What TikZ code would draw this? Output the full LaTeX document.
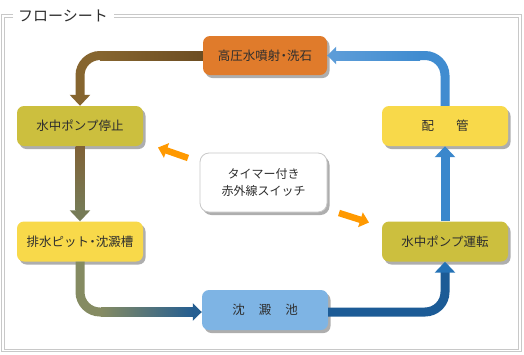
\documentclass[tikz,border=0pt]{standalone}
\usepackage{fontspec}
\setmainfont{Noto Sans CJK JP}
\usetikzlibrary{arrows.meta,shadows,calc}
\definecolor{framec}{HTML}{C8C8C8}
\definecolor{textc}{HTML}{2E2E2E}
\definecolor{orangebox}{HTML}{E07B2B}
\definecolor{olivebox}{HTML}{CCBF3E}
\definecolor{yellowbox}{HTML}{F8D94A}
\definecolor{bluebox}{HTML}{7EB4E4}
\definecolor{orangearr}{HTML}{FF9900}
\definecolor{brownA}{HTML}{6C4D22}
\definecolor{brownB}{HTML}{86652F}
\definecolor{brownC}{HTML}{806236}
\definecolor{oliveA}{HTML}{767B57}
\definecolor{oliveB}{HTML}{858B62}
\definecolor{paleC}{HTML}{A6AB8B}
\definecolor{blueD}{HTML}{255E91}
\definecolor{blueE}{HTML}{1C5B96}
\definecolor{blueF}{HTML}{2472B6}
\definecolor{blueG}{HTML}{3A87CC}
\definecolor{blueH}{HTML}{408CD0}
\definecolor{blueI}{HTML}{5C9CD8}
\newcommand{\nakaguro}{\makebox[0.55em]{・}}
\begin{document}
\begin{tikzpicture}[x=1pt,y=-1pt,
  boxstyle/.style={rounded corners=7pt, minimum width=126pt, minimum height=40pt,
    inner sep=0pt, font=\fontsize{12.5pt}{15pt}\selectfont, text=textc,
    drop shadow={shadow xshift=2.5pt, shadow yshift=-3pt, opacity=0.45, fill=black!70}},
  conn/.style={line width=9pt, rounded corners=20pt},
  framestyle/.style={draw=framec, line width=1pt},
  hintarrow/.style={line width=6.5pt, draw=orangearr, -{Triangle[length=9pt,width=15pt]}}
]
\useasboundingbox (0,0) rectangle (524,354);
\fill[white] (0,0) rectangle (524,354);

% frame
\draw[framestyle] (13,14.5) -- (1.5,14.5) -- (1.5,351.5) -- (521.5,351.5) -- (521.5,14.5) -- (114,14.5);
\draw[framestyle] (13,17) -- (4.5,17) -- (4.5,349) -- (518.5,349) -- (518.5,17) -- (114,17);
\node[anchor=west, inner sep=0pt, text=textc, font=\fontsize{15pt}{17pt}\selectfont] (title) at (18,15.5) {フローシート};

% boxes
\node[boxstyle, fill=orangebox, minimum width=124pt, minimum height=39pt] (hp) at (265,55.5) {高圧水噴射\nakaguro 洗石};
\node[boxstyle, fill=olivebox] (stop) at (80,126) {水中ポンプ停止};
\node[boxstyle, fill=yellowbox] (pipe) at (445,126) {配\hspace{22pt}管};
\node[boxstyle, fill=yellowbox] (pit) at (80,241.5) {排水ピット\nakaguro 沈澱槽};
\node[boxstyle, fill=olivebox] (run) at (445,241.5) {水中ポンプ運転};
\node[boxstyle, fill=bluebox] (pond) at (265,310) {沈\hspace{14pt}澱\hspace{14pt}池};
\node[boxstyle, fill=white, draw=framec, line width=0.8pt, minimum width=127pt, minimum height=59pt,
  rounded corners=9pt, align=center, font=\fontsize{12pt}{17pt}\selectfont] (timer) at (263.5,182.5) {タイマー付き\\赤外線スイッチ};

% connectors
\draw[conn, draw=brownB, -{Triangle[length=11pt,width=20pt,color=brownB]}] (hp.west) -| (stop.north);
\shade[left color=brownB, right color=brownA] (100,51) rectangle ($(hp.west)+(0,4.5)$);

\draw[conn, draw=brownC, -{Triangle[length=11pt,width=20pt,color=oliveA]}] (stop.south) -- (pit.north);
\shade[top color=brownC, bottom color=oliveA] ($(stop.south)+(-4.5,0)$) rectangle ($(pit.north)+(4.5,-11)$);

\draw[conn, draw=oliveB, -{Triangle[length=9pt,width=17pt,color=blueD]}] (pit.south) |- ($(pond.west)+(0,2)$);
\shade[left color=oliveB, middle color=paleC, right color=blueD] (101,307.5) rectangle ($(pond.west)+(-9,6.5)$);

\draw[conn, draw=blueE, -{Triangle[length=11pt,width=20pt,color=blueF]}] ($(pond.east)+(0,2)$) -| (run.south);
\draw[conn, draw=blueG, -{Triangle[length=11pt,width=20pt,color=blueG]}] (run.north) -- (pipe.south);
\draw[conn, draw=blueH, -{Triangle[length=9pt,width=17pt,color=blueI]}] (pipe.north) |- (hp.east);
\shade[left color=blueI, right color=blueH] ($(hp.east)+(9,-4.5)$) rectangle (420,60);

% timer hint arrows
\coordinate (h1s) at (188,158);
\coordinate (h1e) at (158,147.5);
\coordinate (h2s) at (339,213);
\coordinate (h2e) at (369,222.5);
\draw[hintarrow] (h1s) -- (h1e);
\draw[hintarrow] (h2s) -- (h2e);
\end{tikzpicture}
\end{document}
